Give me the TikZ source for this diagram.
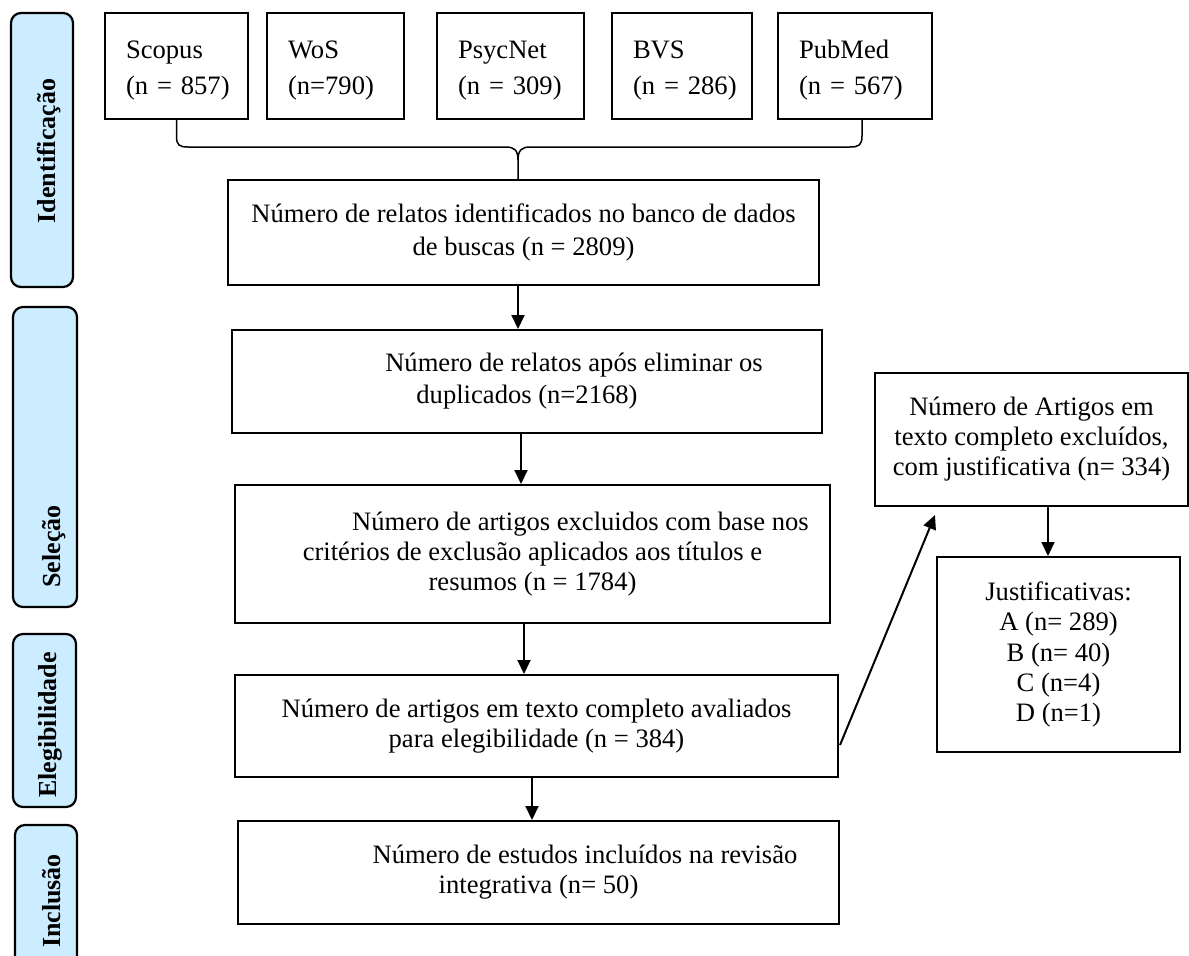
\documentclass[tikz,border=0pt]{standalone}
\usepackage{fontspec}
\setmainfont{Liberation Serif}
\usetikzlibrary{arrows.meta,calc}
\definecolor{barblue}{RGB}{204,236,255}
\begin{document}
\begin{tikzpicture}[x=1pt,y=-1pt,
  bar/.style={draw=black, line width=2.2pt, fill=barblue, rounded corners=10pt},
  barlabel/.style={rotate=90, anchor=base, inner sep=0pt, font=\fontsize{26}{30}\selectfont\bfseries},
  src/.style={draw, line width=2pt, minimum height=106pt, inner xsep=21pt, inner ysep=0pt, align=left, font=\fontsize{26.6}{36}\selectfont},
  box/.style={draw, line width=2pt, align=center, inner sep=0pt, font=\fontsize{26.6}{30}\selectfont},
  arr/.style={line width=2pt, -{Triangle[length=14pt,width=13pt]}},
  bracestyle/.style={line width=1.5pt}
]
\useasboundingbox (0,0) rectangle (1189,956);
\clip (0,0) rectangle (1189,956);

% phase bars
\path[bar] (11,13) rectangle (73,287);
\node[barlabel] (lid) at (55,151) {Identificação};
\path[bar] (13,307) rectangle (77,607);
\node[barlabel] (lsel) at (60,546.5) {Seleção};
\path[bar] (13,634) rectangle (76,807);
\node[barlabel] (lele) at (56,725) {Elegibilidade};
\path[bar] (15,825) rectangle (77,990);
\node[barlabel] (linc) at (60,901) {Inclusão};

% sources
\node[src, minimum width=143pt, text width=101pt] (scopus) at (176.5,66) {\mbox{\rule{0pt}{27pt}Scopus}\\\mbox{(n = 857)}};
\node[src, minimum width=137pt, text width=95pt] (wos) at (335.5,66) {\mbox{\rule{0pt}{27pt}WoS}\\\mbox{(n=790)}};
\node[src, minimum width=147pt, text width=105pt] (psyc) at (510.5,66) {\mbox{\rule{0pt}{27pt}PsycNet}\\\mbox{(n = 309)}};
\node[src, minimum width=140pt, text width=98pt] (bvs) at (682,66) {\mbox{\rule{0pt}{27pt}BVS}\\\mbox{(n = 286)}};
\node[src, minimum width=154pt, text width=112pt] (pubmed) at (855,66) {\mbox{\rule{0pt}{27pt}PubMed}\\\mbox{(n = 567)}};

% main flow
\node[box, minimum width=591pt, minimum height=105pt, font=\fontsize{26.6}{33}\selectfont] (n1) at (523.5,232.5)
  {Número de relatos identificados no banco de dados\\de buscas (n = 2809)};
\node[box, minimum width=590pt, minimum height=103pt, font=\fontsize{26.6}{32}\selectfont] (n2) at (527,381.5)
  {\hspace*{94pt}Número de relatos após eliminar os\\duplicados (n=2168)};
\node[box, minimum width=595pt, minimum height=138pt] (n3) at (532.5,554)
  {\hspace*{96pt}Número de artigos excluidos com base nos\\critérios de exclusão aplicados aos títulos e\\resumos (n = 1784)};
\node[box, minimum width=603pt, minimum height=102pt] (n4) at (536.5,726)
  {Número de artigos em texto completo avaliados\\para elegibilidade (n = 384)};
\node[box, minimum width=601pt, minimum height=103pt] (n5) at (538.5,872.5)
  {\hspace*{93pt}Número de estudos incluídos na revisão\\integrativa (n= 50)};

% right side
\node[box, minimum width=313pt, minimum height=133pt] (r1) at (1031.5,439.5)
  {Número de Artigos em\\texto completo excluídos,\\com justificativa (n= 334)};
\node[box, minimum width=243pt, minimum height=195pt, font=\fontsize{26.6}{30.25}\selectfont] (r2) at (1058.5,654.5)
  {Justificativas:\\A (n= 289)\\B (n= 40)\\C (n=4)\\D (n=1)};

% brace joining the sources
\coordinate (tip) at (518,180);
\draw[bracestyle] (scopus.south) -- (176.5,136) .. controls (176.5,145) and (179,147) .. (188,147)
  -- (506,147) .. controls (514,147) and (518,150) .. (518,160) -- (tip);
\draw[bracestyle] (518,160) .. controls (518,150) and (522,147) .. (530,147)
  -- (850,147) .. controls (859,147) and (862,145) .. (862,136) -- (862,118);

% arrows
\draw[arr] ([xshift=-5.5pt]n1.south) -- ([xshift=-5.5pt]n1.south |- n2.north);
\draw[arr] ([xshift=-6pt]n2.south) -- ([xshift=-6pt]n2.south |- n3.north);
\draw[arr] ([xshift=-8.5pt]n3.south) -- ([xshift=-8.5pt]n3.south |- n4.north);
\draw[arr] ([xshift=-4.5pt]n4.south) -- ([xshift=-4.5pt]n4.south |- n5.north);
\draw[arr] ([xshift=16.5pt]r1.south) -- ([xshift=16.5pt]r1.south |- r2.north);
\draw[arr] ([xshift=1pt,yshift=33pt]n4.south east) -- ([xshift=61pt,yshift=-8pt]r1.south west);
\end{tikzpicture}
\end{document}
